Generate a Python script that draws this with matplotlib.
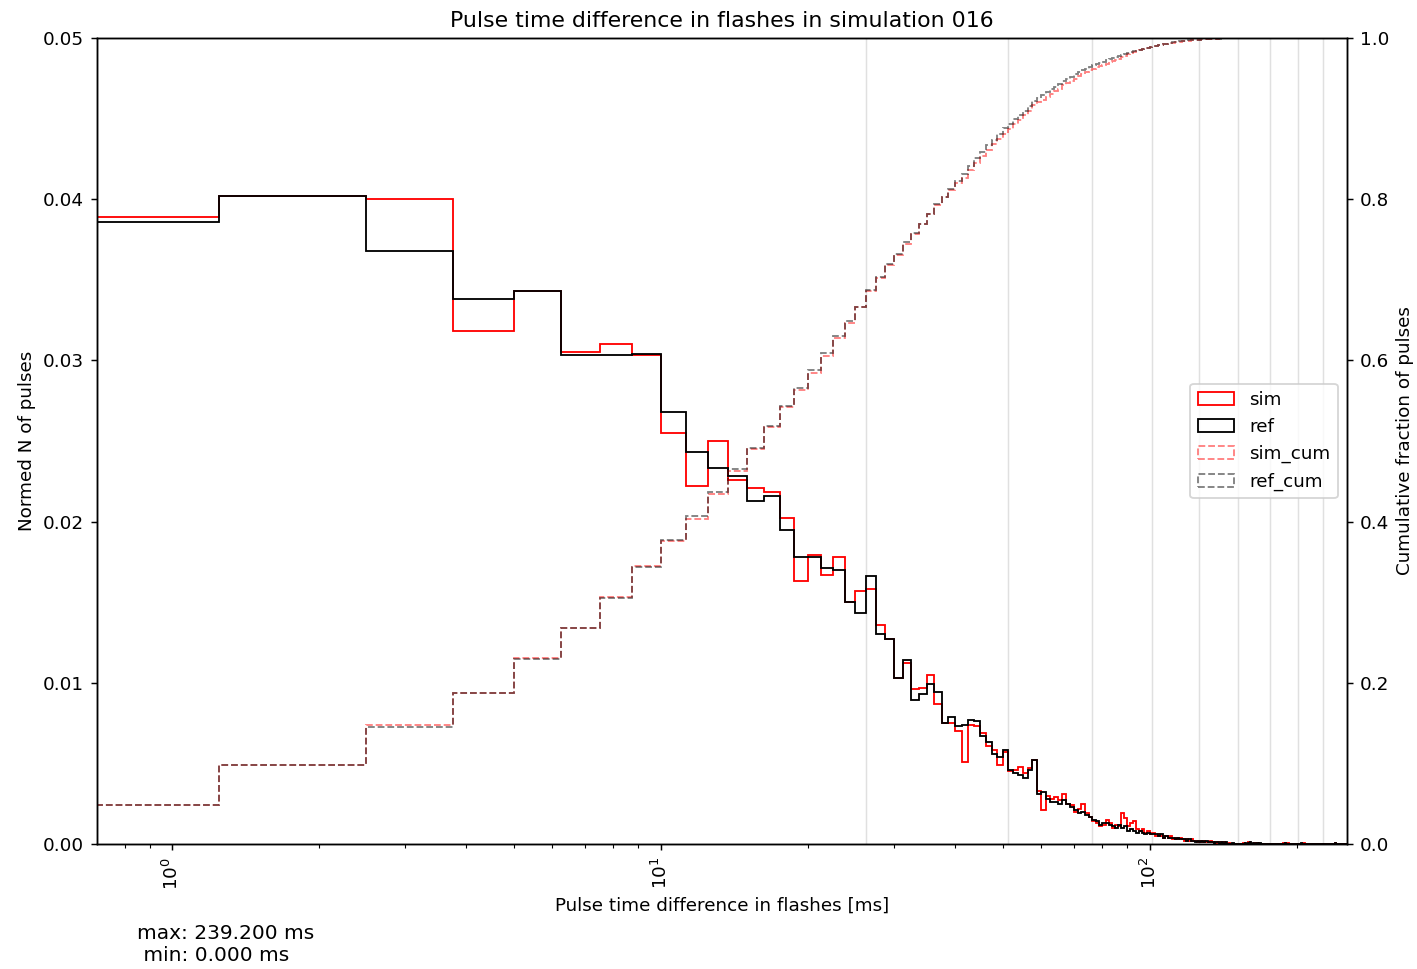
import matplotlib
matplotlib.use("Agg")
import matplotlib.pyplot as plt
import numpy as np

# histogram bins: 1.25 ms wide, 0 .. 255 ms
bin_width = 1.25
n_bins = 204
edges = bin_width * np.arange(n_bins + 1)
centers = edges[:-1] + bin_width / 2

# normed heights (density), bin by bin
sim = [
    0.0389, 0.0402, 0.0400, 0.0318, 0.0343, 0.0305, 0.0310, 0.0303, 0.0255, 0.0222,
    0.0250, 0.0226, 0.0221, 0.0218, 0.0202, 0.0163, 0.0179, 0.0167, 0.0178, 0.0150,
    0.0157, 0.0158, 0.0136, 0.0127, 0.0103, 0.0112, 0.0096, 0.0097, 0.0105, 0.0087,
    0.0075, 0.0075, 0.0070, 0.0051, 0.0074, 0.0073, 0.0069, 0.0061, 0.0058, 0.0049,
    0.0057, 0.0045, 0.0046, 0.0048, 0.0044, 0.0047, 0.0052, 0.0033, 0.0021, 0.0030,
    0.0028, 0.0029, 0.0027, 0.0031, 0.0025, 0.0024, 0.0020, 0.0022, 0.0025, 0.0019,
    0.0017, 0.0014, 0.0013, 0.0011, 0.0012, 0.0015, 0.0013, 0.0010, 0.0012, 0.0011,
    0.0019, 0.0016, 0.0011, 0.0013, 0.0014, 0.0009, 0.0008, 0.0009, 0.0007, 0.0008,
    0.0006, 0.0007, 0.0005, 0.0006, 0.0005, 0.0004, 0.0005, 0.0004, 0.0005, 0.0003,
    0.0004, 0.0003, 0.0004, 0.0003, 0.0002, 0.0003, 0.0002, 0.0003, 0.0002, 0.0002,
    0.0001, 0.0002, 0.0001, 0.0002, 0.0001, 0.0001, 0.0002, 0.0001, 0.0001, 0.0000,
    0.0001, 0.0001, 0.0000, 0.0001, 0.0000, 0.0000, 0.00005, 0.0000, 0.0000, 0.0000,
    0.0000, 0.0000, 0.0000, 0.0000, 0.00005, 0.0000, 0.0000, 0.0001, 0.00005, 0.0000,
    0.0000, 0.00005, 0.0000, 0.00005, 0.0000, 0.0000, 0.0000, 0.0000, 0.0000, 0.0000,
    0.0000, 0.0000, 0.0000, 0.0000, 0.0000, 0.0000, 0.0000, 0.0000, 0.0000, 0.0000,
    0.00005, 0.0000, 0.0000, 0.00005, 0.0000, 0.0000, 0.0000, 0.0000, 0.0000, 0.0000,
    0.0000, 0.0000, 0.0000, 0.0000, 0.0000, 0.00005, 0.0000, 0.0000, 0.0000, 0.0000,
    0.0000, 0.0000, 0.0000, 0.0000, 0.0000, 0.0000, 0.0000, 0.0000, 0.0000, 0.0000,
    0.0000, 0.0000, 0.0000, 0.0000, 0.0000, 0.0000, 0.0000, 0.0000, 0.0000, 0.0000,
    0.0000, 0.00005, 0.0000, 0.0000, 0.0000, 0.0000, 0.0000, 0.0000, 0.0000, 0.0000,
    0.0000, 0.0000, 0.0000, 0.0000,
]
ref = [
    0.0386, 0.0402, 0.0368, 0.0338, 0.0343, 0.0303, 0.0303, 0.0304, 0.0268, 0.0243,
    0.0233, 0.0228, 0.0213, 0.0216, 0.0195, 0.0178, 0.0178, 0.0171, 0.0170, 0.0150,
    0.0143, 0.0166, 0.0130, 0.0127, 0.0103, 0.0114, 0.0089, 0.0093, 0.0099, 0.0094,
    0.0075, 0.0079, 0.0073, 0.0074, 0.0077, 0.0076, 0.0067, 0.0063, 0.0056, 0.0054,
    0.0058, 0.0046, 0.0044, 0.0043, 0.0041, 0.0046, 0.0052, 0.0031, 0.0032, 0.0028,
    0.0026, 0.0026, 0.0025, 0.0027, 0.0025, 0.0023, 0.0021, 0.0019, 0.0020, 0.0018,
    0.0017, 0.0015, 0.0014, 0.0012, 0.0013, 0.0013, 0.0012, 0.0011, 0.0010, 0.0012,
    0.0010, 0.0011, 0.0008, 0.0009, 0.0008, 0.0007, 0.0008, 0.0007, 0.0006, 0.0007,
    0.0006, 0.0006, 0.0006, 0.0005, 0.0006, 0.0004, 0.0005, 0.0004, 0.0004, 0.0004,
    0.0003, 0.0004, 0.0003, 0.0003, 0.0003, 0.0002, 0.0003, 0.0002, 0.0002, 0.0001,
    0.0002, 0.0001, 0.0002, 0.0001, 0.0002, 0.0001, 0.0001, 0.0001, 0.0000, 0.0001,
    0.0001, 0.0000, 0.0001, 0.0000, 0.0001, 0.0000, 0.0000, 0.0000, 0.00005, 0.0000,
    0.0000, 0.0000, 0.0000, 0.0000, 0.0000, 0.00005, 0.0000, 0.00005, 0.0001, 0.0000,
    0.00005, 0.0000, 0.00005, 0.0000, 0.00005, 0.0000, 0.0000, 0.0000, 0.0000, 0.0000,
    0.0000, 0.0000, 0.0000, 0.0000, 0.0000, 0.0000, 0.0000, 0.0000, 0.0000, 0.0000,
    0.0000, 0.00005, 0.0000, 0.0000, 0.0000, 0.0000, 0.0000, 0.0000, 0.0000, 0.0000,
    0.0000, 0.0000, 0.0000, 0.00005, 0.0000, 0.0000, 0.0000, 0.0000, 0.0000, 0.0000,
    0.0000, 0.0000, 0.0000, 0.0000, 0.0000, 0.0000, 0.0000, 0.0000, 0.0000, 0.0000,
    0.0000, 0.0000, 0.0000, 0.0000, 0.0000, 0.0000, 0.0000, 0.0000, 0.0000, 0.0000,
    0.0000, 0.00005, 0.0000, 0.0000, 0.0000, 0.0000, 0.0000, 0.0000, 0.0000, 0.0000,
    0.0000, 0.0000, 0.0000, 0.0000,
]

t_max = 239.2
t_min = 0.0
sim_id = "016"
grid_lines = [26.25, 51.25, 76.25, 101.25, 126.25, 151.25, 176.25, 201.25, 226.25]

fig = plt.figure(figsize=(10.735, 7.341), dpi=132)
ax = fig.add_axes([0.0685, 0.129, 0.882, 0.832])
ax2 = ax.twinx()

for g in grid_lines:
    ax.axvline(g, color="0.88", lw=0.8, zorder=0)

ax.hist(centers, bins=edges, weights=sim, histtype="step", color="red", label="sim")
ax.hist(centers, bins=edges, weights=ref, histtype="step", color="black", label="ref")

ax2.hist(centers, bins=edges, weights=sim, density=True, cumulative=True,
         histtype="step", ls="--", color="red", alpha=0.5, label="sim_cum")
ax2.hist(centers, bins=edges, weights=ref, density=True, cumulative=True,
         histtype="step", ls="--", color="black", alpha=0.5, label="ref_cum")

ax.set_xscale("log")
ax.set_xlim(0.703, 253)
ax.set_ylim(0, 0.05)
ax2.set_ylim(0, 1.0)
ax.tick_params(axis="x", labelrotation=90)

ax.set_title("Pulse time difference in flashes in simulation " + sim_id)
ax.set_xlabel("Pulse time difference in flashes [ms]")
ax.set_ylabel("Normed N of pulses")
ax2.set_ylabel("Cumulative fraction of pulses")

h1, l1 = ax.get_legend_handles_labels()
h2, l2 = ax2.get_legend_handles_labels()
ax2.legend(h1 + h2, l1 + l2, loc="center right")

fig.text(0.097, 0.008, "max: %.3f ms\n min: %.3f ms" % (t_max, t_min), fontsize=11)

fig.savefig("out.png")
